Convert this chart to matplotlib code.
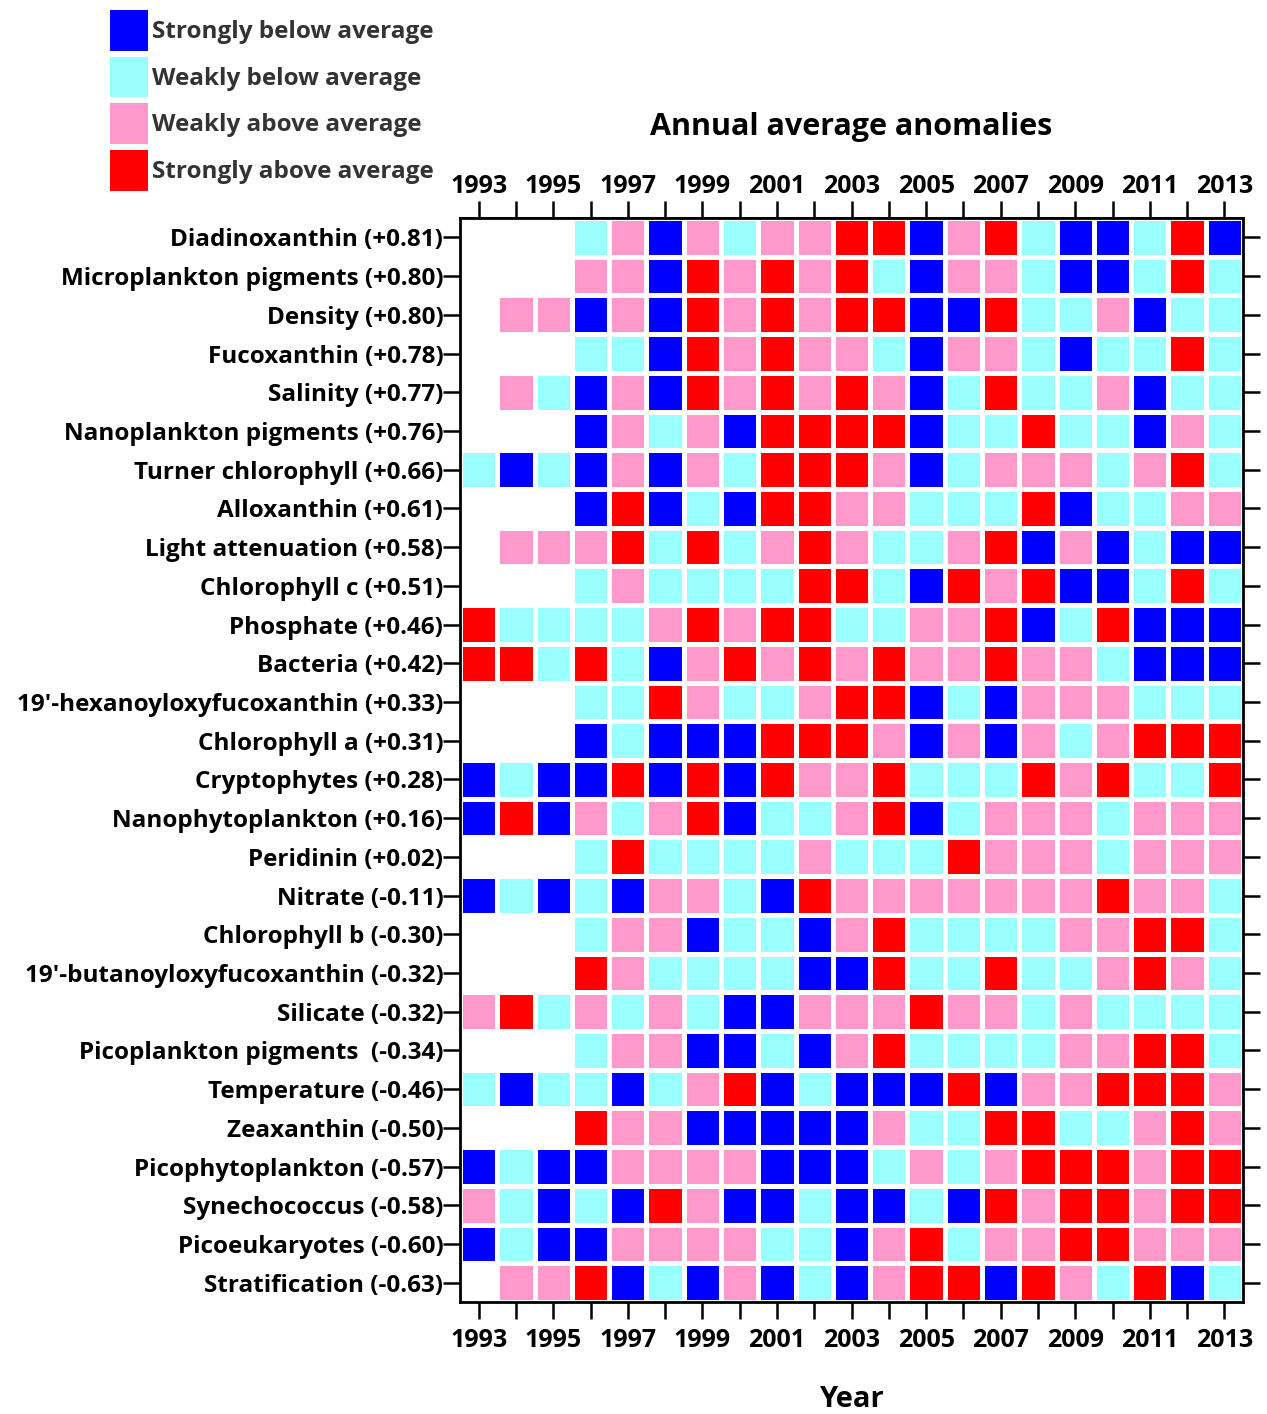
import numpy as np
import matplotlib
matplotlib.use('Agg')
import matplotlib.pyplot as plt
from matplotlib.colors import ListedColormap, BoundaryNorm
from matplotlib.patches import Patch

plt.rcParams['font.family'] = ['Open Sans', 'DejaVu Sans']
plt.rcParams['font.weight'] = 'bold'

years = list(range(1993, 2014))

variables = [
    "Diadinoxanthin (+0.81)",
    "Microplankton pigments (+0.80)",
    "Density (+0.80)",
    "Fucoxanthin (+0.78)",
    "Salinity (+0.77)",
    "Nanoplankton pigments (+0.76)",
    "Turner chlorophyll (+0.66)",
    "Alloxanthin (+0.61)",
    "Light attenuation (+0.58)",
    "Chlorophyll c (+0.51)",
    "Phosphate (+0.46)",
    "Bacteria (+0.42)",
    "19'-hexanoyloxyfucoxanthin (+0.33)",
    "Chlorophyll a (+0.31)",
    "Cryptophytes (+0.28)",
    "Nanophytoplankton (+0.16)",
    "Peridinin (+0.02)",
    "Nitrate (-0.11)",
    "Chlorophyll b (-0.30)",
    "19'-butanoyloxyfucoxanthin (-0.32)",
    "Silicate (-0.32)",
    "Picoplankton pigments  (-0.34)",
    "Temperature (-0.46)",
    "Zeaxanthin (-0.50)",
    "Picophytoplankton (-0.57)",
    "Synechococcus (-0.58)",
    "Picoeukaryotes (-0.60)",
    "Stratification (-0.63)",
]

# B strongly below, C weakly below, P weakly above, R strongly above, . no data
anomalies = [
    "...CPBPCPPRRBPRCBBCRB",
    "...PPBRPRPRCBPPCBBCRC",
    ".PPBPBRPRPRRBBRCCPBCC",
    "...CCBRPRPPCBPPCBCCRC",
    ".PCBPBRPRPRPBCRCCPBCC",
    "...BPCPBRRRRBCCRCCBPC",
    "CBCBPBPCRRRPBCPPPCPRC",
    "...BRBCBRRPPCCCRBCCPP",
    ".PPPRCRCPRPCCPRBPBCBB",
    "...CPCCCCRRCBRPRBBCRC",
    "RCCCCPRPRRCCPPRBCRBBB",
    "RRCRCBPRPRPRPPRPPCBBB",
    "...CCRPCCPRRBCBPPPCCC",
    "...BCBBBRRRPBPBPCPRRR",
    "BCBBRBRBRPPRCCCRPRCCR",
    "BRBPCPRBCCPRBCPPPCPPP",
    "...CRCCCCPCCCRPPPCPPP",
    "BCBCBPPCBRPPPPPPPRPPC",
    "...CPPBCCBPRCCCCPPRRC",
    "...RPCCCCBBRCCRCCPRPC",
    "PRCPCPCBBPPPRPPCPCCCC",
    "...CPPBBCBPRCCCCPPRRC",
    "CBCCBCPRBCBBBRBPPRRRP",
    "...RPPBBBBBPCCRRCCPRP",
    "BCBBPPPPBBBCPCPRRRPRR",
    "PCBCBRPBBCBBCBRPRRPRR",
    "BCBBPPPPCCBPRCPPRRPPP",
    ".PPRBCBPBCBPRRBRPCRBC",
]

categories = ["Strongly below average", "Weakly below average",
              "Weakly above average", "Strongly above average"]
codes = "BCPR"
colors = ["#0000FF", "#99FFFF", "#FF99CC", "#FF0000"]

grid = np.array([[codes.index(c) if c in codes else np.nan for c in row]
                 for row in anomalies])
grid = np.ma.masked_invalid(grid)

fig = plt.figure(figsize=(12.67, 14.14), dpi=100)
ax = fig.add_axes([460 / 1267, 1 - 1302 / 1414, 783 / 1267, 1084 / 1414])

cmap = ListedColormap(colors)
norm = BoundaryNorm([-0.5, 0.5, 1.5, 2.5, 3.5], cmap.N)
x_edges = np.arange(len(years) + 1) - 0.5
y_edges = np.arange(len(variables) + 1) - 0.5
ax.pcolormesh(x_edges, y_edges, grid, cmap=cmap, norm=norm,
              edgecolors='white', linewidth=2.5)
ax.set_xlim(-0.5, len(years) - 0.5)
ax.set_ylim(len(variables) - 0.5, -0.5)

year_labels = [str(y) if y % 2 == 1 else '' for y in years]
ax.set_xticks(range(len(years)))
ax.set_xticklabels(year_labels)
ax.set_yticks(range(len(variables)))
ax.set_yticklabels(variables)
ax.tick_params(axis='x', direction='out', length=12, width=1.8,
               labelsize=18, pad=7)
ax.tick_params(axis='y', left=True, right=True, direction='out',
               length=12, width=1.8, labelsize=17.5, pad=0)
for s in ax.spines.values():
    s.set_linewidth(2)

# top year axis (same ticks, tighter label spacing than bottom)
top = ax.secondary_xaxis('top')
top.set_xticks(range(len(years)))
top.set_xticklabels(year_labels)
top.tick_params(direction='out', length=12, width=1.8, labelsize=18, pad=2)
top.spines['top'].set_linewidth(2)

ax.set_xlabel("Year", fontsize=21, fontweight='bold', labelpad=23)
fig.text(851.5 / 1267, 1 - 127 / 1414, "Annual average anomalies",
         fontsize=22, fontweight='bold', ha='center', va='center')

handles = [Patch(facecolor=c, edgecolor='none') for c in colors]
fig.legend(handles, categories, loc='upper left',
           bbox_to_anchor=(105 / 1267, 1 - 5 / 1414), frameon=False,
           fontsize=17.5, handlelength=1.55, handleheight=2.2, borderpad=0.2,
           borderaxespad=0, handletextpad=0.2, labelspacing=0.25,
           labelcolor='#333333')

fig.savefig("out.png", dpi=100)
